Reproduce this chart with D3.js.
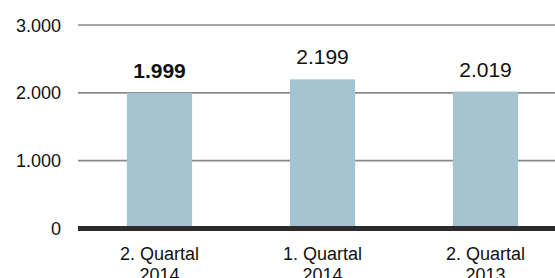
<!DOCTYPE html>
<html lang="de">
<head>
<meta charset="utf-8" />
<title>Quartale</title>
<script src="https://cdn.jsdelivr.net/npm/d3@7"></script>
<style>
  body { margin: 0; background: #fff; }
  text { font-family: "Liberation Sans", Arial, sans-serif; fill: #111; }
</style>
</head>
<body>
<script>
var categories = [["2. Quartal", "2014"], ["1. Quartal", "2014"], ["2. Quartal", "2013"]];
var values = [1999, 2199, 2019];
var valueLabels = ["1.999", "2.199", "2.019"];
var tickValues = [0, 1000, 2000, 3000];
var tickLabels = ["0", "1.000", "2.000", "3.000"];

var W = 555, H = 278;
var svg = d3.select("body").append("svg")
  .attr("width", W)
  .attr("height", H);

var x = d3.scaleBand()
  .domain(d3.range(values.length))
  .range([78, 567])
  .paddingInner(0.6)
  .paddingOuter(0.3);

var y = d3.scaleLinear()
  .domain([0, 3000])
  .range([228.5, 25]);

// gitterlinien
svg.selectAll(".grid")
  .data(tickValues.filter(function(d) { return d > 0; }))
  .enter().append("line")
  .attr("x1", 78).attr("x2", W)
  .attr("y1", function(d) { return y(d); })
  .attr("y2", function(d) { return y(d); })
  .attr("stroke", "#8a8a8a")
  .attr("stroke-width", 1.6);

svg.selectAll(".tick")
  .data(tickValues)
  .enter().append("text")
  .attr("x", 61)
  .attr("y", function(d) { return y(d) + 6.5; })
  .attr("text-anchor", "end")
  .style("font-size", "18px")
  .text(function(d, i) { return tickLabels[i]; });

svg.selectAll(".bar")
  .data(values)
  .enter().append("rect")
  .attr("x", function(d, i) { return x(i); })
  .attr("width", x.bandwidth())
  .attr("y", function(d) { return y(d); })
  .attr("height", function(d) { return y(0) - y(d); })
  .attr("fill", "#a5c3d1");

svg.selectAll(".val")
  .data(values)
  .enter().append("text")
  .attr("x", function(d, i) { return x(i) + x.bandwidth() / 2; })
  .attr("y", function(d) { return y(d) - 15; })
  .attr("text-anchor", "middle")
  .style("font-size", "21px")
  .style("font-weight", function(d, i) { return i === 0 ? "bold" : "normal"; })
  .text(function(d, i) { return valueLabels[i]; });

// nulllinie
svg.append("line")
  .attr("x1", 78).attr("x2", W)
  .attr("y1", y(0)).attr("y2", y(0))
  .attr("stroke", "#2b2b2b")
  .attr("stroke-width", 5);

var cat = svg.selectAll(".cat")
  .data(categories)
  .enter().append("text")
  .attr("text-anchor", "middle")
  .style("font-size", "18px");
cat.selectAll("tspan")
  .data(function(d, i) { return d.map(function(t) { return { t: t, i: i }; }); })
  .enter().append("tspan")
  .attr("x", function(d) { return x(d.i) + x.bandwidth() / 2; })
  .attr("y", function(d, j) { return 259.5 + j * 21; })
  .text(function(d) { return d.t; });
</script>
</body>
</html>
